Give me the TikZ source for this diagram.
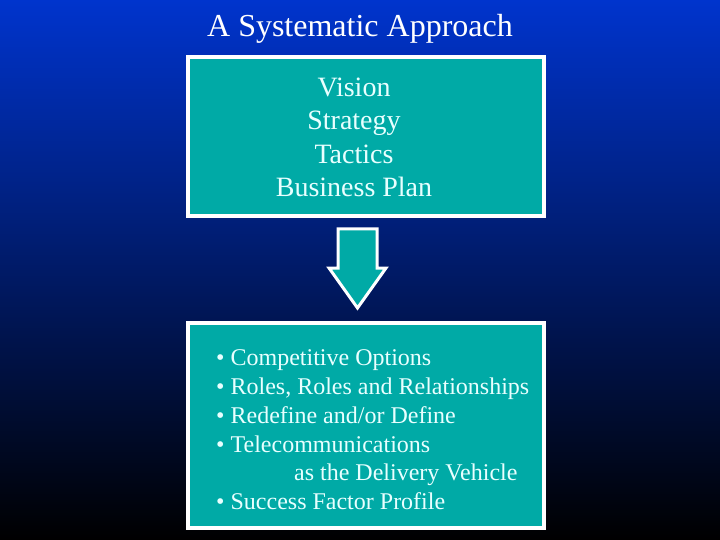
\documentclass[tikz,border=0pt]{standalone}
\usepackage{fontspec}
\setmainfont{Liberation Serif}
\usetikzlibrary{positioning}

\definecolor{slideblue}{RGB}{0,52,205}
\definecolor{slidemid}{RGB}{0,32,140}
\definecolor{slideteal}{RGB}{0,170,166}
\definecolor{slidetext}{RGB}{232,255,255}

\begin{document}
\begin{tikzpicture}[
                x = 1pt,
                y = -1pt,
                box/.style = {
                    draw = white,
                    fill = slideteal,
                    line width = 4pt,
                    minimum width = 356pt,
                    minimum height = #1,
                    inner sep = 0pt,
                    outer sep = 0pt
                },
                box/.default = 159pt,
                boxtext/.style = {
                    text = slidetext,
                    inner sep = 0pt,
                    font = \fontsize{#1}{#1*1.2}\selectfont
                },
                blockarrow/.style = {
                    draw = white,
                    fill = slideteal,
                    line width = 3pt,
                    line join = miter
                }
            ]

            % background
            \shade[top color=slideblue, middle color=slidemid, bottom color=black] (0,0) rectangle (720,540);
            \useasboundingbox (0,0) rectangle (720,540);

            \node[text=white, inner sep=0pt, anchor=base, font=\fontsize{32}{38}\selectfont] (title) at (360,36.5) {A Systematic Approach};

            \node[box] (plan) at (366,136.5) {};
            \node[box=205pt] (actions) at (366,425.5) {};

            \node[text=slidetext, inner sep=0pt, align=center,
                  font=\fontsize{28}{33.3}\selectfont] (plantext) at (354,137.5)
                  {Vision\\Strategy\\Tactics\\Business Plan};

            \node[text=slidetext, inner sep=0pt, align=left, anchor=north west,
                  font=\fontsize{24}{28.8}\selectfont] (actiontext) at (216,349.6)
                  {\textbullet{} Competitive Options\\
                   \textbullet{} Roles, Roles and Relationships\\
                   \textbullet{} Redefine and/or Define\\
                   \textbullet{} Telecommunications\\
                   \hspace*{78pt}as the Delivery Vehicle\\
                   \textbullet{} Success Factor Profile};

            % arrow from plan down to actions
            \draw[blockarrow] (338,229) -- (377,229) -- (377,268) -- (386,268)
                  -- (357.5,308) -- (329,268) -- (338,268) -- cycle;

         \end{tikzpicture}
\end{document}
